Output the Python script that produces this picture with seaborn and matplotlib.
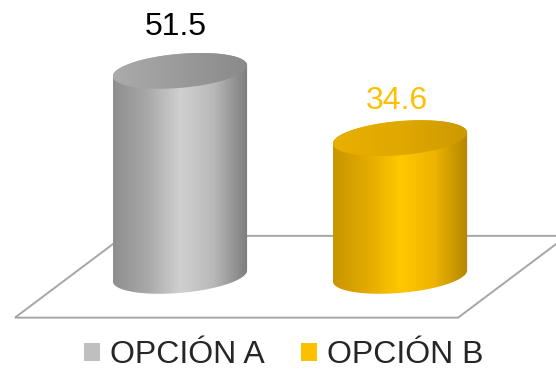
import numpy as np
import pandas as pd
import seaborn as sns
import matplotlib.pyplot as plt
from matplotlib.colors import LinearSegmentedColormap
from matplotlib.patches import Polygon, Patch

# datos
categories = ['OPCIÓN A', 'OPCIÓN B']
values = [51.5, 34.6]
value_labels = ['51.5', '34.6']

# colores
bar_colors = ['#BFBFBF', '#FFC000']
label_colors = ['#000000', '#FFC000']
body_stops = [
    ['#8E8E8E', '#A8A8A8', '#D0D0D0', '#B8B8B8', '#7C7C7C'],
    ['#C89600', '#E2AA00', '#FFC800', '#EEB400', '#B48500'],
]
top_stops = [['#ABABAB', '#9A9A9A', '#8A8A8A'], ['#E9B000', '#E0A800', '#CC9900']]
label_offsets = [(-4, 44), (-3, 37)]  # en pixeles

sns.set_style('white')
plt.rcParams['font.family'] = ['Liberation Sans', 'DejaVu Sans']

df = pd.DataFrame({'opcion': categories, 'valor': values})

fig = plt.figure(figsize=(5.56, 3.69), dpi=100)
ax = fig.add_axes([0, 0, 1, 1])
sns.barplot(data=df, x='opcion', y='valor', hue='opcion', palette=bar_colors,
            width=0.61, legend=False, ax=ax)
XLIM = (-0.818, 1.709)
YLIM = (-23.4, 69.3)
ax.set_xlim(*XLIM)
ax.set_ylim(*YLIM)
ax.set_autoscale_on(False)
ax.axis('off')

# piso (paralelogramo)
floor = Polygon([(-0.75, -10.5), (1.264, -10.5), (1.759, 10.05), (-0.255, 10.05)],
                closed=True, facecolor='white', edgecolor='#A6A6A6', lw=1.4, zorder=1)
ax.add_patch(floor)

to_data = ax.transData.inverted()
b = 17.0                 # semieje menor de la elipse (px)
theta = np.deg2rad(5)    # inclinacion de la elipse


def ellipse_pts(cx, cy, a, t):
    x = cx + a * np.cos(t) * np.cos(theta) - b * np.sin(t) * np.sin(theta)
    y = cy + a * np.cos(t) * np.sin(theta) + b * np.sin(t) * np.cos(theta)
    return np.column_stack([x, y])


def gradient_fill(path_px, stops, zorder):
    pts = to_data.transform(path_px)
    clip = Polygon(pts, closed=True, facecolor='none', edgecolor='none',
                   transform=ax.transData, zorder=zorder)
    ax.add_patch(clip)
    cmap = LinearSegmentedColormap.from_list('g', stops)
    grad = np.linspace(0, 1, 256).reshape(1, -1)
    im = ax.imshow(grad, extent=[pts[:, 0].min(), pts[:, 0].max(),
                                 pts[:, 1].min(), pts[:, 1].max()],
                   aspect='auto', cmap=cmap, origin='lower', zorder=zorder,
                   interpolation='bicubic')
    im.set_clip_path(clip)


bars = sorted(ax.patches[:len(values)], key=lambda p: p.get_x())
for i, p in enumerate(bars):
    p.set_visible(False)
    x0, w, h = p.get_x(), p.get_width(), p.get_height()
    (px0, py0), (px1, py1) = ax.transData.transform([(x0, 0), (x0 + w, h)])
    cx = (px0 + px1) / 2
    half = (px1 - px0) / 2
    a = np.sqrt((half ** 2 - (b * np.sin(theta)) ** 2) / np.cos(theta) ** 2)
    t0 = np.arctan2(-b * np.sin(theta), a * np.cos(theta))

    bottom = ellipse_pts(cx, py0, a, np.linspace(t0, t0 - np.pi, 80))
    top_back = ellipse_pts(cx, py1, a, np.linspace(t0 + np.pi, t0, 80))
    gradient_fill(np.vstack([bottom, top_back]), body_stops[i], 3 + i)

    top = ellipse_pts(cx, py1, a, np.linspace(0, 2 * np.pi, 160))
    gradient_fill(top, top_stops[i], 3.5 + i)

    ax.annotate(value_labels[i], xy=(x0 + w / 2, h), xytext=label_offsets[i],
                textcoords='offset pixels', ha='center', va='center',
                fontsize=23, color=label_colors[i], zorder=10)

ax.set_xlim(*XLIM)
ax.set_ylim(*YLIM)

handles = [Patch(facecolor=c, edgecolor='none', label=cat)
           for c, cat in zip(bar_colors, categories)]
fig.legend(handles=handles, loc='center', bbox_to_anchor=(0.51, 0.038), ncol=2,
           frameon=False, fontsize=23, handlelength=0.5, handleheight=0.5,
           handletextpad=0.3, columnspacing=1.15, borderpad=0, borderaxespad=0)

fig.savefig('out.png', dpi=100)
